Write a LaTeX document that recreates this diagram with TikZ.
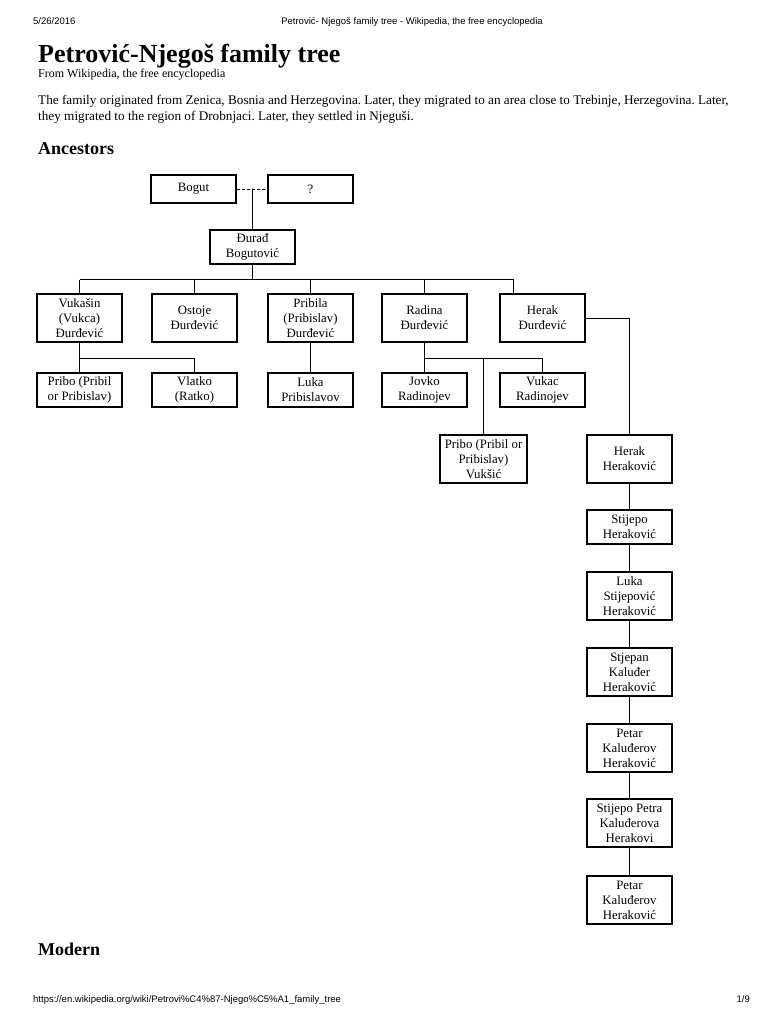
\documentclass[tikz,border=0pt]{standalone}
\usepackage{fontspec}
\setmainfont{Liberation Serif}
\newfontfamily\hdr{Liberation Sans}
\frenchspacing
\begin{document}
\begin{tikzpicture}[x=1pt,y=-1pt,
  person/.style={draw=black,line width=2pt,fill=white,rectangle,inner sep=0pt,
    minimum width=85pt,align=center,font=\fontsize{12.8}{15}\selectfont},
  p2/.style={person,minimum height=34pt},
  p3/.style={person,minimum height=48pt},
  link/.style={draw=black,line width=1pt},
  txt/.style={inner sep=0pt,anchor=base west}]
\useasboundingbox[fill=white] (0,0) rectangle (768,1024);
% page header / text
\node[txt,font=\hdr\fontsize{9.5}{11}\selectfont] (date) at (33,25) {5/26/2016};
\node[inner sep=0pt,anchor=base,font=\hdr\fontsize{9.5}{11}\selectfont] (htitle) at (412,25) {Petrović- Njegoš family tree - Wikipedia, the free encyclopedia};
\node[txt,font=\bfseries\fontsize{26}{30}\selectfont] (title) at (38,63) {Petrović-Njegoš family tree};
\node[txt,font=\fontsize{12}{14}\selectfont] (sub) at (38,78) {From Wikipedia, the free encyclopedia};
\node[txt,font=\fontsize{13.2}{16}\selectfont] (para1) at (38,105) {The family originated from Zenica, Bosnia and Herzegovina. Later, they migrated to an area close to Trebinje, Herzegovina. Later,};
\node[txt,font=\fontsize{13.2}{16}\selectfont] (para2) at (38,121) {they migrated to the region of Drobnjaci. Later, they settled in Njeguši.};
\node[txt,font=\bfseries\fontsize{18}{22}\selectfont] (anc) at (38,155) {Ancestors};
\node[txt,font=\bfseries\fontsize{18}{22}\selectfont] (mod) at (38,955) {Modern};
\node[txt,font=\hdr\fontsize{9.5}{11}\selectfont] (url) at (33,1002) {https://en.wikipedia.org/wiki/Petrovi\%C4\%87-Njego\%C5\%A1\_family\_tree};
\node[inner sep=0pt,anchor=base east,font=\hdr\fontsize{9.5}{11}\selectfont] (pg) at (750,1002) {1/9};
% tree nodes
\node[person,minimum height=28pt] (bogut) at (193.5,189) {Bogut};
\node[person,minimum height=28pt] (q) at (310.5,189) {?};
\node[p2] (durad) at (252.5,247) {Đurađ\\Bogutović};
\node[p3] (vuk) at (79.5,318) {Vukašin\\(Vukca)\\Đurđević};
\node[p3] (ost) at (194.5,318) {Ostoje\\Đurđević};
\node[p3] (pri) at (310.5,318) {Pribila\\(Pribislav)\\Đurđević};
\node[p3] (rad) at (424.5,318) {Radina\\Đurđević};
\node[p3] (her) at (542.5,318) {Herak\\Đurđević};
\node[p2] (pribo) at (79.5,390) {Pribo (Pribil\\or Pribislav)};
\node[p2] (vlat) at (194.5,390) {Vlatko\\(Ratko)};
\node[p2] (lukap) at (310.5,390) {Luka\\Pribislavov};
\node[p2] (jov) at (424.5,390) {Jovko\\Radinojev};
\node[p2] (vukac) at (542.5,390) {Vukac\\Radinojev};
\node[p3,minimum width=87pt] (pribov) at (483.5,459) {Pribo (Pribil or\\Pribislav)\\Vukšić};
\node[p3] (hh) at (629.5,459) {Herak\\Heraković};
\node[p2] (sh) at (629.5,527) {Stijepo\\Heraković};
\node[p3] (lsh) at (629.5,596) {Luka\\Stijepović\\Heraković};
\node[p3] (skh) at (629.5,672) {Stjepan\\Kaluđer\\Heraković};
\node[p3] (pkh) at (629.5,748) {Petar\\Kaluđerov\\Heraković};
\node[p3] (spk) at (629.5,823) {Stijepo Petra\\Kaluđerova\\Herakovi};
\node[p3] (pkh2) at (629.5,900) {Petar\\Kaluđerov\\Heraković};
% junction coordinates
\coordinate (m0) at (252.5,189.5);
\coordinate (b1) at (252.5,279.5);
\coordinate (b1l) at (79.5,279.5);
\coordinate (b1r) at (513.5,279.5);
\coordinate (b2) at (79.5,358.5);
\coordinate (b2r) at (194.5,358.5);
\coordinate (b3) at (424.5,358.5);
\coordinate (b3m) at (483.5,358.5);
\coordinate (b3r) at (542.5,358.5);
% connectors
\draw[link,dash pattern=on 3pt off 2pt] ([yshift=-0.5pt]bogut.east) -- ([yshift=-0.5pt]q.west);
\draw[link] (m0) -- (durad.north);
\draw[link] (durad.south) -- (b1);
\draw[link] (b1l) -- (b1r);
\draw[link] (b1l) -- (vuk.north);
\draw[link] (ost.north) -- (ost.north |- b1);
\draw[link] (pri.north) -- (pri.north |- b1);
\draw[link] (rad.north) -- (rad.north |- b1);
\draw[link] (b1r) -- (b1r |- her.north);
\draw[link] (vuk.south) -- (pribo.north);
\draw[link] (b2) -- (b2r) -- (vlat.north);
\draw[link] (pri.south) -- (lukap.north);
\draw[link] (rad.south) -- (jov.north);
\draw[link] (b3) -- (b3r) -- (vukac.north);
\draw[link] (b3m) -- (pribov.north);
\draw[link] ([yshift=-0.5pt]her.east) -| (hh.north);
\draw[link] (hh) -- (sh);
\draw[link] (sh) -- (lsh);
\draw[link] (lsh) -- (skh);
\draw[link] (skh) -- (pkh);
\draw[link] (pkh) -- (spk);
\draw[link] (spk) -- (pkh2);
\end{tikzpicture}
\end{document}
